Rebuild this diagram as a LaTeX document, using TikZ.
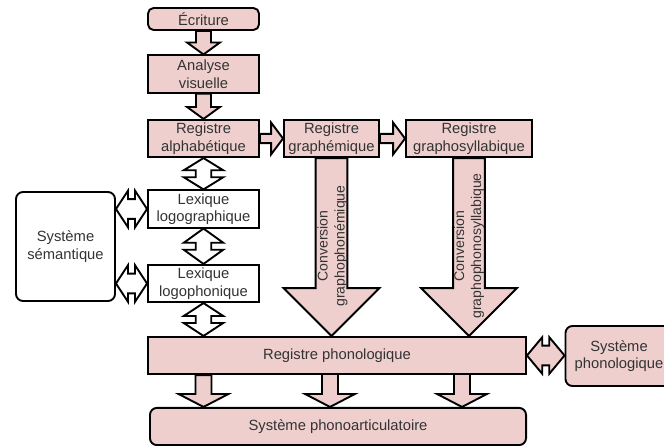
\documentclass[tikz,border=0pt]{standalone}
\usepackage{fontspec}
\setmainfont{Liberation Sans}
\usetikzlibrary{calc}
\definecolor{rose}{RGB}{238,207,206}

\begin{document}
\begin{tikzpicture}[x=0.025cm, y=-0.025cm, line width=1.35pt]
  \tikzset{
    box/.style={draw, fill=rose, inner sep=1pt, align=center, text=black!80,
      font=\fontsize{10.5}{12.5}\selectfont},
    blank/.style={box, fill=white},
    col/.style={minimum width=2.775cm, minimum height=0.93cm},
    conv/.style={rotate=90, align=center, text=black!80, font=\fontsize{10}{12}\selectfont},
    % block arrow, top to bottom: shaft, head, head length
    fatdown/.style n args={3}{to path={let \p1=(\tikztostart), \p2=(\tikztotarget) in
      (\x1-#1,\y1) -- (\x1-#1,\y2+#3) -- (\x1-#2,\y2+#3) -- (\x1,\y2)
      -- (\x1+#2,\y2+#3) -- (\x1+#1,\y2+#3) -- (\x1+#1,\y1) -- cycle}},
    % block arrow, left to right
    fatright/.style n args={3}{to path={let \p1=(\tikztostart), \p2=(\tikztotarget) in
      (\x1,\y1+#1) -- (\x2-#3,\y1+#1) -- (\x2-#3,\y1+#2) -- (\x2,\y1)
      -- (\x2-#3,\y1-#2) -- (\x2-#3,\y1-#1) -- (\x1,\y1-#1) -- cycle}},
    % double arrows with a short shaft
    dblv/.style={to path={let \p1=(\tikztostart), \p2=(\tikztotarget), \p3=($(\p1)!0.5!(\p2)$) in
      (\x1,\y1) -- (\x1+14pt,\y3+2.5pt) -- (\x1+5.5pt,\y3+2.5pt) -- (\x1+5.5pt,\y3-2.5pt)
      -- (\x1+14pt,\y3-2.5pt) -- (\x1,\y2) -- (\x1-14pt,\y3-2.5pt) -- (\x1-5.5pt,\y3-2.5pt)
      -- (\x1-5.5pt,\y3+2.5pt) -- (\x1-14pt,\y3+2.5pt) -- cycle}},
    dblh/.style={to path={let \p1=(\tikztostart), \p2=(\tikztotarget), \p3=($(\p1)!0.5!(\p2)$) in
      (\x1,\y1) -- (\x3-2.5pt,\y1+13pt) -- (\x3-2.5pt,\y1+7pt) -- (\x3+2.5pt,\y1+7pt)
      -- (\x3+2.5pt,\y1+13pt) -- (\x2,\y1) -- (\x3+2.5pt,\y1-13pt) -- (\x3+2.5pt,\y1-7pt)
      -- (\x3-2.5pt,\y1-7pt) -- (\x3-2.5pt,\y1-13pt) -- cycle}},
  }

  \useasboundingbox (0,0) rectangle (664,446);

  \node[box, rounded corners=4pt, minimum width=2.775cm, minimum height=0.55cm] (ecr) at (203.5,19) {Écriture};
  \node[box, col] (ana)  at (203.5,74)    {Analyse\\visuelle};
  \node[box, col] (alph) at (203.5,138.5) {Registre\\alphabétique};
  \node[box, minimum width=2.375cm, minimum height=0.93cm] (graph) at (331.5,138.5) {Registre\\graphémique};
  \node[box, minimum width=3.15cm, minimum height=0.93cm] (gsyl) at (469,138.5) {Registre\\graphosyllabique};
  \node[blank, col] (logo)   at (203.5,209)   {Lexique\\logographique};
  \node[blank, col] (logoph) at (203.5,283.5) {Lexique\\logophonique};
  \node[blank, rounded corners=5pt, minimum width=2.475cm, minimum height=2.725cm] (sem) at (65.5,246.5) {Système\\sémantique};
  \node[box, minimum width=9.45cm, minimum height=0.93cm] (phon) at (337,355.5) {Registre phonologique};
  \node[box, rounded corners=5pt, minimum width=2.675cm, minimum height=1.5cm] (sphon) at (619,356) {Système\\phonologique};
  \node[box, rounded corners=5pt, minimum width=9.4cm, minimum height=0.93cm] (art) at (338,426.5) {Système phonoarticulatoire};

  % reading route
  \draw[fill=rose, fatdown={5.3pt}{11.7pt}{8.5pt}] (ecr.south) to (ana.north);
  \draw[fill=rose, fatdown={5.3pt}{11.7pt}{8.5pt}] (ana.south) to (alph.north);
  \draw[fill=rose, fatright={3.3pt}{11.3pt}{8.5pt}] (alph.east) to (graph.west);
  \draw[fill=rose, fatright={3.3pt}{11.3pt}{8.5pt}] (graph.east) to (gsyl.west);

  % the two conversions
  \draw[fill=rose, fatdown={11.3pt}{34pt}{34pt}] (graph.south) to (graph.south |- phon.north);
  \draw[fill=rose, fatdown={11.3pt}{34pt}{34pt}] (gsyl.south) to (gsyl.south |- phon.north);
  \node[conv] (c1) at (332.5,246) {Conversion\\graphophonémique};
  \node[conv] (c2) at (469,246) {Conversion\\graphophonosyllabique};

  % lexical route
  \draw[fill=white, dblv] (alph.south) to (logo.north);
  \draw[fill=white, dblv] (logo.south) to (logoph.north);
  \draw[fill=white, dblv] (logoph.south) to (phon.north -| logoph);
  \draw[fill=white, dblh] (sem.east |- logo) to (logo.west);
  \draw[fill=white, dblh] (sem.east |- logoph) to (logoph.west);
  \draw[fill=rose, dblh] (phon.east) to (sphon.west |- phon);

  % output
  \coordinate (o2) at (330,374);
  \coordinate (o3) at (462,374);
  \draw[fill=rose, fatdown={5.7pt}{17.7pt}{9.2pt}] (phon.south -| ana) to (art.north -| ana);
  \draw[fill=rose, fatdown={5.7pt}{17.7pt}{9.2pt}] (o2) to (o2 |- art.north);
  \draw[fill=rose, fatdown={5.7pt}{17.7pt}{9.2pt}] (o3) to (o3 |- art.north);
\end{tikzpicture}
\end{document}
